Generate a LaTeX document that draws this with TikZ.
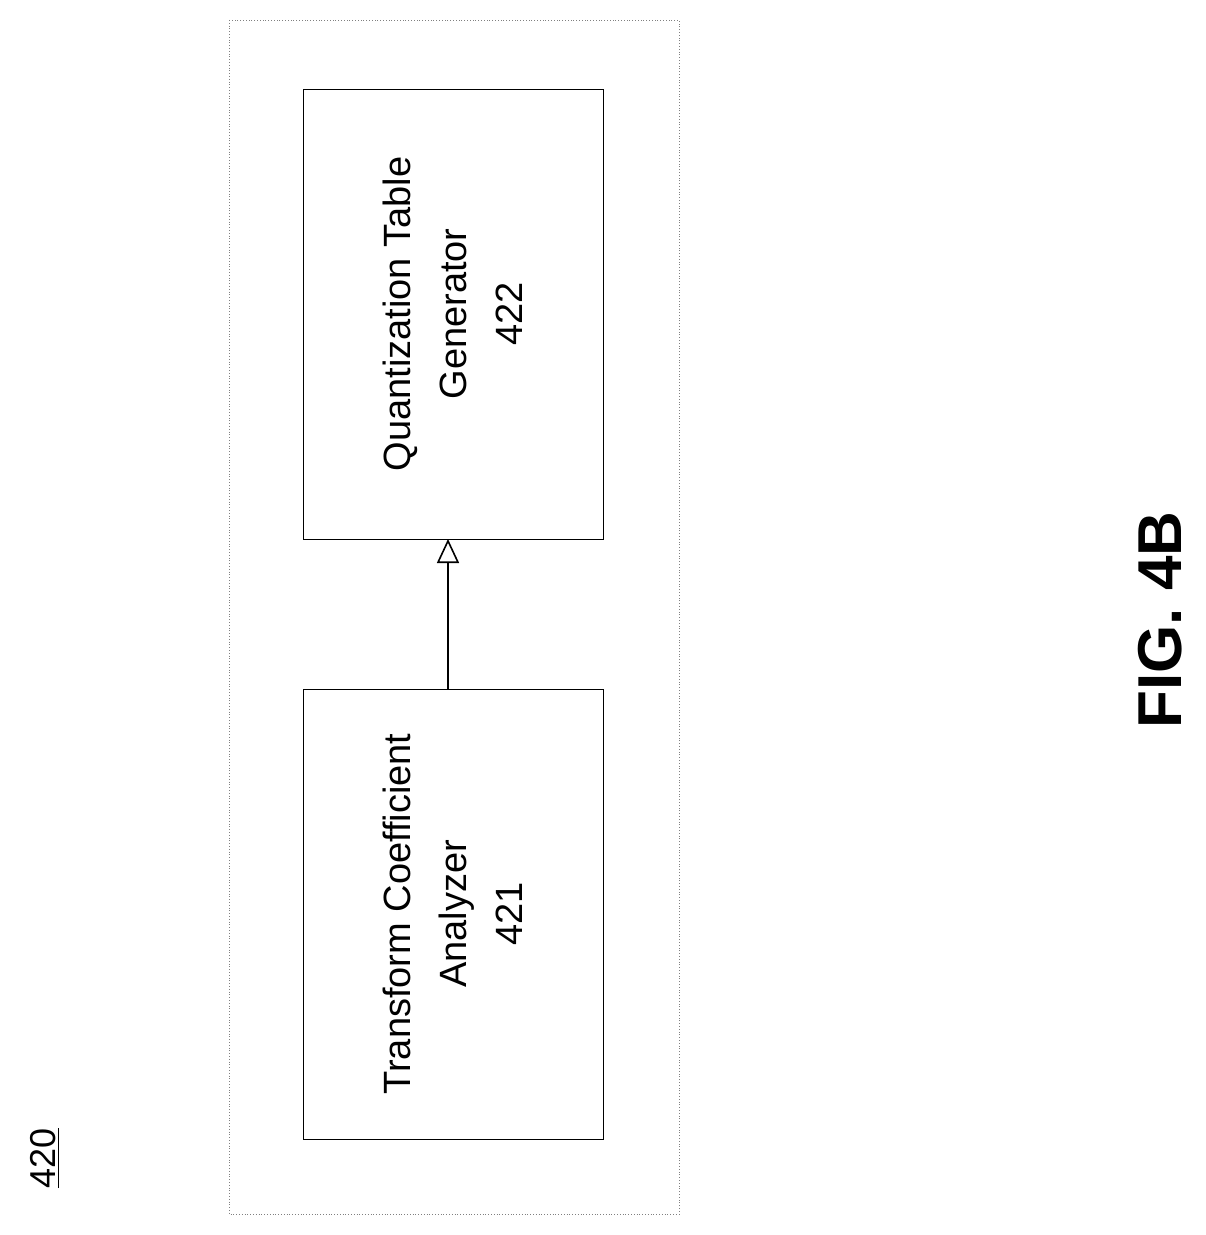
\documentclass[tikz,border=0pt]{standalone}
\usepackage{fontspec}
\setmainfont{Liberation Sans}
\usetikzlibrary{arrows.meta,positioning}
\tikzset{
  blockbox/.style={draw,thin,minimum width=225pt,minimum height=150pt,rotate=90,align=center,font=\fontsize{19}{28}\selectfont},
  flow/.style={-{Triangle[length=12pt,width=11pt,open]},thick}
}
\begin{document}
\begin{tikzpicture}[x=0.5pt,y=-0.5pt]
  \useasboundingbox (0,0) rectangle (1205,1235);
  \draw[densely dotted,gray] (229,20) rectangle (679,1214);
  \node[blockbox] (gen) at (453,314) {Quantization Table\\Generator\\422};
  \node[blockbox] (ana) at (453,914) {Transform Coefficient\\Analyzer\\421};
  % edge points of the turned boxes
  \path (ana.center) ++(-5,-225) coordinate (anatop);
  \path (gen.center) ++(-5,225) coordinate (genbot);
  \draw[flow] (anatop) -- (genbot);
  \node[rotate=90,font=\fontsize{18}{20}\selectfont] (lbl) at (45,1158) {\underline{420}};
  \node[rotate=90,font=\fontsize{31}{34}\selectfont\bfseries] (fig) at (1160,620) {FIG. 4B};
\end{tikzpicture}
\end{document}
